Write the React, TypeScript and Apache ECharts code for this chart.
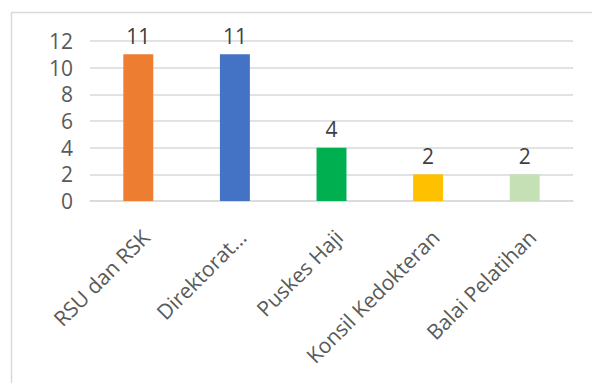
import React, { useEffect, useRef } from "react";
import * as echarts from "echarts";

const categories = ["RSU dan RSK", "Direktorat...", "Puskes Haji", "Konsil Kedokteran", "Balai Pelatihan"];
const values = [11, 11, 4, 2, 2];
const colors = ["#ED7D31", "#4472C4", "#00B050", "#FFC000", "#C5E0B4"];

export default function App() {
  const ref = useRef<HTMLDivElement>(null);
  useEffect(() => {
    if (!ref.current) return;
    const chart = echarts.init(ref.current, null, { renderer: "svg" });
    chart.setOption({
      animation: false,
      graphic: [
        {
          type: "rect",
          shape: { x: 11.5, y: 12.5, width: 620, height: 420 },
          style: { fill: "none", stroke: "#d9d9d9", lineWidth: 1.5 },
          silent: true,
        },
      ],
      grid: { left: 90, right: 19, top: 41, bottom: 182, containLabel: false },
      xAxis: {
        type: "category",
        data: categories,
        axisLine: { show: true, lineStyle: { color: "#d9d9d9", width: 1.5 } },
        axisTick: { show: false },
        axisLabel: {
          rotate: 45,
          interval: 0,
          color: "#595959",
          fontSize: 21,
          fontFamily: "Open Sans",
          margin: 25,
          verticalAlign: "top",
        },
      },
      yAxis: {
        type: "value",
        min: 0,
        max: 12,
        interval: 2,
        axisLine: { show: false },
        axisTick: { show: false },
        splitLine: { lineStyle: { color: "#d9d9d9", width: 1.5 } },
        axisLabel: {
          color: "#595959",
          fontSize: 21,
          fontFamily: "Open Sans",
          margin: 17,
        },
      },
      series: [
        {
          type: "bar",
          barWidth: "31%",
          data: values.map((v, i) => ({ value: v, itemStyle: { color: colors[i] } })),
          label: {
            show: true,
            position: "top",
            distance: 8,
            color: "#404040",
            fontSize: 21,
            fontFamily: "Open Sans",
          },
        },
      ],
    });
    return () => chart.dispose();
  }, []);
  return <div ref={ref} style={{ width: 592, height: 383, position: "absolute", left: 0, top: 0, background: "#fff" }} />;
}
